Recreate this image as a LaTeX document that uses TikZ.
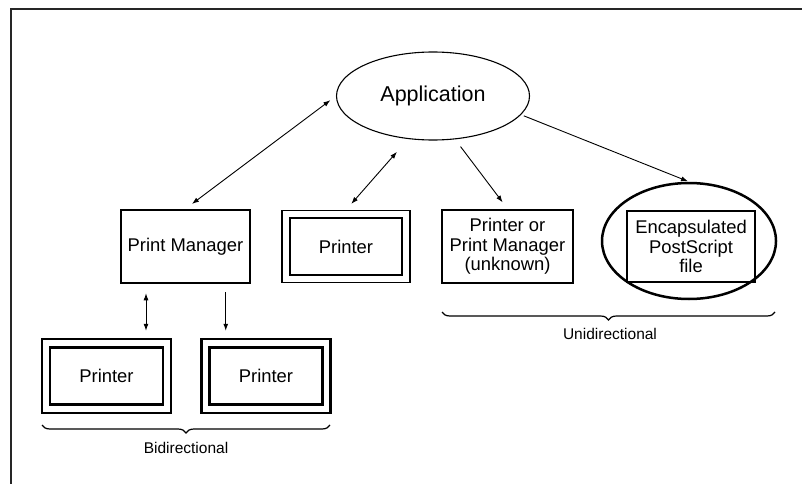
\documentclass[tikz,border=0pt]{standalone}
\usepackage{fontspec}
\setmainfont{Liberation Sans}
\usetikzlibrary{arrows.meta,decorations.pathreplacing,shapes.geometric,calc}
\begin{document}
\begin{tikzpicture}[x=1pt,y=-1pt,
  boxfont/.style={font=\fontsize{18.4}{19.5}\selectfont},
  thickbox/.style={draw,line width=2.5pt,rectangle,inner sep=0pt,boxfont,align=center},
  thinbox/.style={draw,line width=1.2pt,rectangle,inner sep=0pt,boxfont,align=center},
  arr/.style={line width=0.9pt,-{Latex[length=7pt,width=5pt]}},
  biarr/.style={line width=0.9pt,{Latex[length=7pt,width=5pt]}-{Latex[length=7pt,width=5pt]}},
  bracestyle/.style={line width=1.2pt,decorate,decoration={brace,mirror,amplitude=8pt}},
  labelfont/.style={font=\fontsize{15.5}{17}\selectfont}]
\useasboundingbox (0,0) rectangle (802,484);
% frame
\draw[line width=1.5pt,black!85] (802,9) -- (11,9) -- (11,484);
% Application
\node[draw,ellipse,line width=1.1pt,minimum width=193pt,minimum height=88pt,inner sep=0pt,
  font=\fontsize{21.5}{24}\selectfont] (app) at (433,96) {Application};
% Print Manager
\node[thickbox,minimum width=129pt,minimum height=73pt] (pm) at (185.5,246.5) {Print Manager};
% middle printer
\node[thinbox,minimum width=128pt,minimum height=72pt] (mpo) at (346,246.5) {};
\node[thinbox,minimum width=112pt,minimum height=57pt] (mp) at (346,246.5) {Printer};
% unknown
\node[thickbox,minimum width=131pt,minimum height=73pt] (unk) at (507.5,246.5)
  {Printer or\\Print Manager\\(unknown)};
% EPS
\node[draw,ellipse,line width=2.5pt,minimum width=174pt,minimum height=116pt,inner sep=0pt] (eps) at (689,241) {};
\node[thinbox,minimum width=128pt,minimum height=71pt] (epsin) at (691,246.5)
  {Encapsulated\\PostScript\\file};
% bottom printers
\node[thickbox,minimum width=129pt,minimum height=74pt] (lpo) at (106.5,376) {};
\node[thickbox,minimum width=113pt,minimum height=57pt] (lp) at (106.5,376) {Printer};
\node[thickbox,minimum width=129pt,minimum height=74pt] (rpo) at (266,376) {};
\node[thickbox,minimum width=113pt,minimum height=57pt] (rp) at (266,376) {Printer};
% connectors
\draw[biarr,shorten <=7pt,shorten >=8pt] (app.west) -- (pm.north);
\draw[biarr,shorten <=17pt,shorten >=8pt] (app.240) -- (mpo.north);
\draw[arr,shorten <=9pt,shorten >=8pt] (app.297) -- (unk.north);
\draw[arr,shorten <=3pt,shorten >=1pt] (app.348) -- (eps.north);
\coordinate (m1) at ($(pm)!0.5!(lpo)$);
\coordinate (m2) at ($(pm)!0.5!(rpo)$);
\draw[biarr,shorten <=9pt,shorten >=7pt] (pm.south -| m1) -- (lpo.north -| m1);
\draw[arr,shorten <=8pt,shorten >=7pt] (pm.south -| m2) -- (rpo.north -| m2);
% braces
\draw[bracestyle] (42,425) -- (330,425);
\node[labelfont] (bid) at (186,448) {Bidirectional};
\draw[bracestyle] (442,312) -- (775,312);
\node[labelfont] (uni) at (610,334) {Unidirectional};
\end{tikzpicture}
\end{document}
